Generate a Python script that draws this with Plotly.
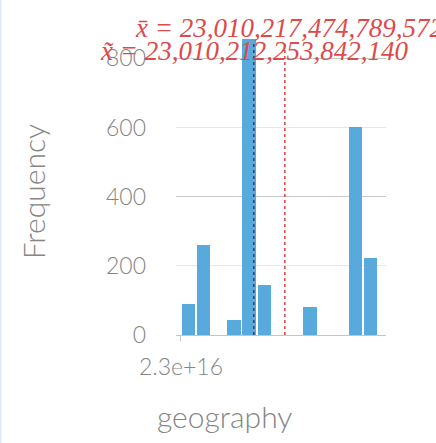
import plotly.graph_objects as go

# Histogram of geography codes: bin edges start and width, counts per bin
bin_start = 23010200000000000
bin_width = 2550000000
counts = [91, 259, 0, 43, 856, 146, 0, 0, 81, 0, 0, 602, 222]

mean_value = 23010217474789572
median_value = 23010212253842140
mean_label = "x\u0304 = 23,010,217,474,789,572"
median_label = "x\u0303 = 23,010,212,253,842,140"

y_ticks = [0, 200, 400, 600, 800]
x_tick_vals = [bin_start]
x_tick_text = ["2.3e+16"]

centers = [bin_start + (i + 0.5) * bin_width for i in range(len(counts))]

fig = go.Figure()
fig.add_trace(go.Bar(
    x=centers, y=counts, width=[bin_width * 0.89] * len(counts),
    marker=dict(color="#58aadd", line=dict(width=0)),
    hoverinfo="x+y", showlegend=False,
))

# darker gridlines every 400 on an overlaid axis
fig.add_trace(go.Scatter(x=[bin_start], y=[0], yaxis="y2", mode="markers",
                         marker=dict(opacity=0), showlegend=False, hoverinfo="skip"))

x_lo = bin_start - 0.84e9
x_hi = bin_start + 34.5e9
y_hi = max(counts)

grey = "#858585"
sans = "Lato, sans-serif"
serif = "Liberation Serif, serif"
fig.update_layout(
    width=436, height=443,
    margin=dict(l=176, r=50, t=39, b=108),
    paper_bgcolor="white", plot_bgcolor="white",
    font=dict(family=sans, color=grey),
    bargap=0,
    xaxis=dict(
        range=[x_lo, x_hi], tickvals=x_tick_vals, ticktext=x_tick_text,
        ticks="outside", ticklen=5, tickcolor="#c8c8c8", tickwidth=1,
        showgrid=False, zeroline=False, showline=False,
        tickfont=dict(size=23, color=grey, weight=300), ticklabelstandoff=6,
    ),
    yaxis=dict(
        range=[0, y_hi], tickvals=y_ticks, showgrid=True, gridcolor="#e6e6e6",
        gridwidth=1, zeroline=True, zerolinecolor="#c4c4c4", zerolinewidth=1,
        showline=False, ticks="", tickfont=dict(size=23, color=grey, weight=300),
        ticklabelstandoff=29,
    ),
    yaxis2=dict(
        range=[0, y_hi], overlaying="y", tickvals=[400, 800], showticklabels=False,
        showgrid=True, gridcolor="#c9c9c9", zeroline=False, showline=False,
    ),
    annotations=[
        dict(text="Frequency", xref="paper", yref="paper", x=-0.68, y=0.483,
             textangle=-90, showarrow=False,
             font=dict(size=30, color=grey, weight=300),
             xanchor="center", yanchor="middle"),
        dict(text="geography", xref="paper", yref="paper", x=0.229, y=-0.273,
             showarrow=False, font=dict(size=30, color=grey, weight=300),
             xanchor="center", yanchor="middle"),
        dict(text="<i>" + mean_label + "</i>", x=mean_value, xref="x",
             yref="paper", y=1, yshift=11, xshift=4, showarrow=False,
             xanchor="center", yanchor="middle",
             font=dict(family=serif, size=27, color="#dd4a4a")),
        dict(text="<i>" + median_label + "</i>", x=median_value, xref="x",
             yref="paper", y=1, yshift=-12, showarrow=False,
             xanchor="center", yanchor="middle",
             font=dict(family=serif, size=27, color="#dd4a4a")),
    ],
    shapes=[
        dict(type="line", xref="x", yref="paper", x0=median_value, x1=median_value,
             y0=0, y1=0.988, line=dict(color="#34406e", width=1.5, dash="dot")),
        dict(type="line", xref="x", yref="paper", x0=mean_value, x1=mean_value,
             y0=0, y1=0.988, line=dict(color="#e04444", width=1.5, dash="dot")),
        dict(type="line", xref="paper", yref="paper", x0=-0.836, x1=-0.836,
             y0=-0.4, y1=1.2, line=dict(color="#dfe5ec", width=2)),
    ],
)

fig.write_html("out.html")
